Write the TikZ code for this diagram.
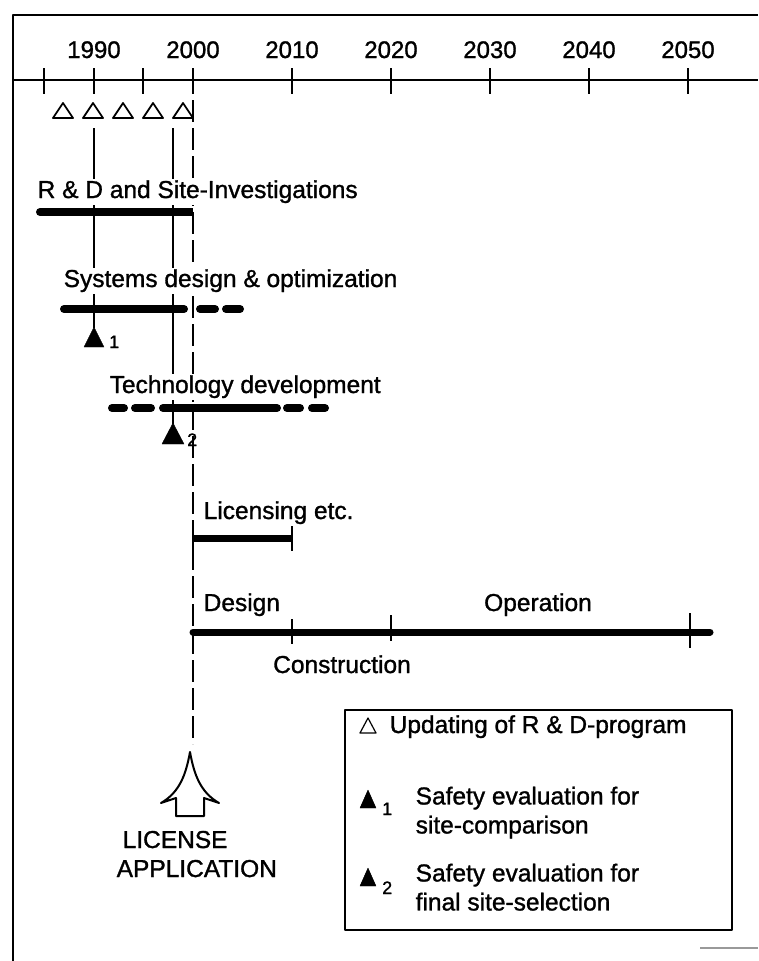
\documentclass[tikz,border=0pt]{standalone}
\usepackage{fontspec}
\setmainfont{Liberation Sans}[FakeBold=1.2]
\begin{document}
\begin{tikzpicture}[x=1pt,y=-1pt,line join=round,
  txt/.style={font=\fontsize{24.5}{29}\selectfont,inner sep=1.5pt,fill=white,anchor=base west},
  yearlbl/.style={font=\fontsize{24}{28}\selectfont,inner sep=0pt,anchor=base},
  frameline/.style={line width=2.4pt},
  thinline/.style={line width=1.5pt},
  tickline/.style={line width=1.5pt},
  heavybar/.style={line width=8pt},
  midbar/.style={line width=7pt},
  dashline/.style={line width=1.6pt,dash pattern=on 22pt off 6pt},
  opentri/.style={line width=1.8pt},
  solidtri/.style={fill=black},
  subnum/.style={font=\fontsize{18}{21}\selectfont,inner sep=0pt,anchor=base west}]
\useasboundingbox (0,0) rectangle (758,961);

% frame and time axis
\draw[frameline] (13,961) -- (13,15) -- (758,15);
\draw[frameline] (13,80) -- (758,80);
\foreach \x in {44,94,143,193,292,391,490,589,688}
  \draw[tickline] (\x,68) -- (\x,94);
\foreach \x/\y in {94/1990,193/2000,292/2010,391/2020,490/2030,589/2040,688/2050}
  \node[yearlbl] (y\y) at (\x,58) {\y};

% updates of the R&D programme
\foreach \x in {63,93,123,153,183}
  \draw[opentri] (\x-10,118) -- (\x+10,118) -- (\x,103) -- cycle;

% licence application line
\coordinate (lapTop) at (193,100);
\coordinate (lapEnd) at (193,744);
\draw[dashline] (lapTop) -- (lapEnd);

% safety evaluation links
\coordinate (s1top) at (94,128);
\coordinate (s1end) at (94,328);
\coordinate (s2top) at (173,128);
\coordinate (s2end) at (173,424);
\draw[thinline] (s1top) -- (s1end);
\draw[thinline] (s2top) -- (s2end);

% activity bars
\draw[heavybar,line cap=round] (40,212) -- (189,212);
\draw[heavybar] (185,212) -- (193,212);

\draw[heavybar,line cap=round] (64,309) -- (184,309);
\draw[heavybar,line cap=round] (200,309) -- (215,309);
\draw[heavybar,line cap=round] (226,309) -- (240,309);

\draw[heavybar,line cap=round] (112,408) -- (124,408);
\draw[heavybar,line cap=round] (135,408) -- (151,408);
\draw[heavybar,line cap=round] (163,408) -- (277,408);
\draw[heavybar,line cap=round] (287,408) -- (300,408);
\draw[heavybar,line cap=round] (312,408) -- (325,408);

\draw[midbar] (193,538) -- (292,538);
\draw[tickline] (193,528) -- (193,548);
\draw[tickline] (292,526) -- (292,551);

\draw[midbar,line cap=round] (193,632) -- (710,632);
\draw[tickline] (292,619) -- (292,644);
\draw[tickline] (391,615) -- (391,641);
\draw[tickline] (690,613) -- (690,648);

% safety evaluation markers
\draw[solidtri] (84,347) -- (104,347) -- (94,327) -- cycle;
\node[subnum] (m1) at (109,348) {1};
\draw[solidtri] (162,444) -- (184,444) -- (173,423) -- cycle;
\node[subnum] (m2) at (187,446) {2};

% activity labels
\node[txt] (rd) at (36,198) {R \& D and Site-Investigations};
\node[txt] (sys) at (62,287) {Systems design \& optimization};
\node[txt] (tech) at (108,393) {Technology development};
\node[txt] (lic) at (202,519) {Licensing etc.};
\node[txt] (des) at (202,611) {Design};
\node[txt,anchor=base] (op) at (538,611) {Operation};
\node[txt,anchor=base] (con) at (342,673) {Construction};

% licence application arrow
\draw[line width=2pt,fill=white]
  (190,752) .. controls (186,774) and (180,792) .. (161,803)
  -- (176,798) -- (176,816) -- (204,816) -- (204,798) -- (219,803)
  .. controls (200,792) and (194,774) .. (190,752) -- cycle;
\node[txt,anchor=base west] (la1) at (121,848) {LICENSE};
\node[txt,anchor=base west] (la2) at (115,877) {APPLICATION};

% legend
\draw[frameline,line width=2pt] (345,710) rectangle (732,930);
\draw[opentri,line width=1.2pt] (360,733) -- (376,733) -- (368,718) -- cycle;
\node[txt] (lg0) at (388,733) {Updating of R \& D-program};
\draw[solidtri] (360,808) -- (376,808) -- (368,790) -- cycle;
\node[subnum] (lg1n) at (382,815) {1};
\node[txt,align=left,anchor=north west] (lg1) at (414,785) {Safety evaluation for\\site-comparison};
\draw[solidtri] (360,886) -- (376,886) -- (368,868) -- cycle;
\node[subnum] (lg2n) at (382,894) {2};
\node[txt,align=left,anchor=north west] (lg2) at (414,862) {Safety evaluation for\\final site-selection};

% scrap of a rule at the lower right
\draw[line width=1.5pt,black!40] (700,948) -- (758,948);
\end{tikzpicture}
\end{document}
